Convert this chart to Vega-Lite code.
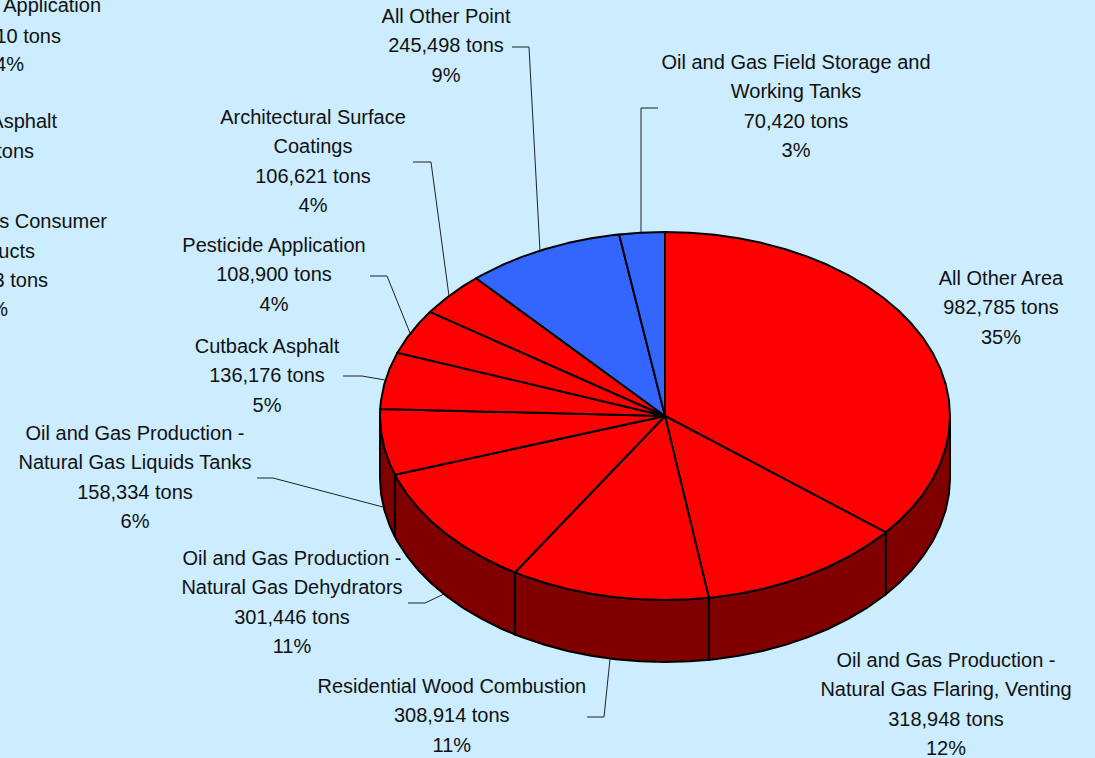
{
  "$schema": "https://vega.github.io/schema/vega-lite/v6.json",
  "width": 1095,
  "height": 758,
  "padding": 0,
  "autosize": {"type": "none"},
  "background": "#CCECFF",
  "config": {"view": {"stroke": null}},
  "datasets": {
    "rim": [
      {"slice":"All Other Area","source":"Area","v":0,"e":0,"n":0},
      {"slice":"All Other Area","source":"Area","v":1,"e":0,"n":1},
      {"slice":"All Other Area","source":"Area","v":2,"e":0.0872,"n":0.9962},
      {"slice":"All Other Area","source":"Area","v":3,"e":0.1736,"n":0.9848},
      {"slice":"All Other Area","source":"Area","v":4,"e":0.2588,"n":0.9659},
      {"slice":"All Other Area","source":"Area","v":5,"e":0.342,"n":0.9397},
      {"slice":"All Other Area","source":"Area","v":6,"e":0.4226,"n":0.9063},
      {"slice":"All Other Area","source":"Area","v":7,"e":0.5,"n":0.866},
      {"slice":"All Other Area","source":"Area","v":8,"e":0.5736,"n":0.8192},
      {"slice":"All Other Area","source":"Area","v":9,"e":0.6428,"n":0.766},
      {"slice":"All Other Area","source":"Area","v":10,"e":0.7071,"n":0.7071},
      {"slice":"All Other Area","source":"Area","v":11,"e":0.766,"n":0.6428},
      {"slice":"All Other Area","source":"Area","v":12,"e":0.8192,"n":0.5736},
      {"slice":"All Other Area","source":"Area","v":13,"e":0.866,"n":0.5},
      {"slice":"All Other Area","source":"Area","v":14,"e":0.9063,"n":0.4226},
      {"slice":"All Other Area","source":"Area","v":15,"e":0.9397,"n":0.342},
      {"slice":"All Other Area","source":"Area","v":16,"e":0.9659,"n":0.2588},
      {"slice":"All Other Area","source":"Area","v":17,"e":0.9848,"n":0.1736},
      {"slice":"All Other Area","source":"Area","v":18,"e":0.9962,"n":0.0872},
      {"slice":"All Other Area","source":"Area","v":19,"e":1,"n":0,"floor":-0.337},
      {"slice":"All Other Area","source":"Area","v":20,"e":0.9962,"n":-0.0872,"floor":-0.4242},
      {"slice":"All Other Area","source":"Area","v":21,"e":0.9848,"n":-0.1736,"floor":-0.5106},
      {"slice":"All Other Area","source":"Area","v":22,"e":0.9659,"n":-0.2588,"floor":-0.5958},
      {"slice":"All Other Area","source":"Area","v":23,"e":0.9397,"n":-0.342,"floor":-0.679},
      {"slice":"All Other Area","source":"Area","v":24,"e":0.9063,"n":-0.4226,"floor":-0.7596},
      {"slice":"All Other Area","source":"Area","v":25,"e":0.866,"n":-0.5,"floor":-0.837},
      {"slice":"All Other Area","source":"Area","v":26,"e":0.8192,"n":-0.5736,"floor":-0.9106},
      {"slice":"All Other Area","source":"Area","v":27,"e":0.7747,"n":-0.6324,"floor":-0.9694},
      {"slice":"All Other Area","source":"Area","v":28,"e":0,"n":0},

      {"slice":"Natural Gas Flaring, Venting","source":"Area","v":0,"e":0,"n":0},
      {"slice":"Natural Gas Flaring, Venting","source":"Area","v":1,"e":0.7747,"n":-0.6324,"floor":-0.9694},
      {"slice":"Natural Gas Flaring, Venting","source":"Area","v":2,"e":0.766,"n":-0.6428,"floor":-0.9798},
      {"slice":"Natural Gas Flaring, Venting","source":"Area","v":3,"e":0.7071,"n":-0.7071,"floor":-1.0441},
      {"slice":"Natural Gas Flaring, Venting","source":"Area","v":4,"e":0.6428,"n":-0.766,"floor":-1.103},
      {"slice":"Natural Gas Flaring, Venting","source":"Area","v":5,"e":0.5736,"n":-0.8192,"floor":-1.1562},
      {"slice":"Natural Gas Flaring, Venting","source":"Area","v":6,"e":0.5,"n":-0.866,"floor":-1.203},
      {"slice":"Natural Gas Flaring, Venting","source":"Area","v":7,"e":0.4226,"n":-0.9063,"floor":-1.2433},
      {"slice":"Natural Gas Flaring, Venting","source":"Area","v":8,"e":0.342,"n":-0.9397,"floor":-1.2767},
      {"slice":"Natural Gas Flaring, Venting","source":"Area","v":9,"e":0.2588,"n":-0.9659,"floor":-1.3029},
      {"slice":"Natural Gas Flaring, Venting","source":"Area","v":10,"e":0.1736,"n":-0.9848,"floor":-1.3218},
      {"slice":"Natural Gas Flaring, Venting","source":"Area","v":11,"e":0.1539,"n":-0.9881,"floor":-1.3251},
      {"slice":"Natural Gas Flaring, Venting","source":"Area","v":12,"e":0,"n":0},

      {"slice":"Residential Wood Combustion","source":"Area","v":0,"e":0,"n":0},
      {"slice":"Residential Wood Combustion","source":"Area","v":1,"e":0.1539,"n":-0.9881,"floor":-1.3251},
      {"slice":"Residential Wood Combustion","source":"Area","v":2,"e":0.0872,"n":-0.9962,"floor":-1.3332},
      {"slice":"Residential Wood Combustion","source":"Area","v":3,"e":0,"n":-1,"floor":-1.337},
      {"slice":"Residential Wood Combustion","source":"Area","v":4,"e":-0.0872,"n":-0.9962,"floor":-1.3332},
      {"slice":"Residential Wood Combustion","source":"Area","v":5,"e":-0.1736,"n":-0.9848,"floor":-1.3218},
      {"slice":"Residential Wood Combustion","source":"Area","v":6,"e":-0.2588,"n":-0.9659,"floor":-1.3029},
      {"slice":"Residential Wood Combustion","source":"Area","v":7,"e":-0.342,"n":-0.9397,"floor":-1.2767},
      {"slice":"Residential Wood Combustion","source":"Area","v":8,"e":-0.4226,"n":-0.9063,"floor":-1.2433},
      {"slice":"Residential Wood Combustion","source":"Area","v":9,"e":-0.5,"n":-0.866,"floor":-1.203},
      {"slice":"Residential Wood Combustion","source":"Area","v":10,"e":-0.5265,"n":-0.8502,"floor":-1.1872},
      {"slice":"Residential Wood Combustion","source":"Area","v":11,"e":0,"n":0},

      {"slice":"Natural Gas Dehydrators","source":"Area","v":0,"e":0,"n":0},
      {"slice":"Natural Gas Dehydrators","source":"Area","v":1,"e":-0.5265,"n":-0.8502,"floor":-1.1872},
      {"slice":"Natural Gas Dehydrators","source":"Area","v":2,"e":-0.5736,"n":-0.8192,"floor":-1.1562},
      {"slice":"Natural Gas Dehydrators","source":"Area","v":3,"e":-0.6428,"n":-0.766,"floor":-1.103},
      {"slice":"Natural Gas Dehydrators","source":"Area","v":4,"e":-0.7071,"n":-0.7071,"floor":-1.0441},
      {"slice":"Natural Gas Dehydrators","source":"Area","v":5,"e":-0.766,"n":-0.6428,"floor":-0.9798},
      {"slice":"Natural Gas Dehydrators","source":"Area","v":6,"e":-0.8192,"n":-0.5736,"floor":-0.9106},
      {"slice":"Natural Gas Dehydrators","source":"Area","v":7,"e":-0.866,"n":-0.5,"floor":-0.837},
      {"slice":"Natural Gas Dehydrators","source":"Area","v":8,"e":-0.9063,"n":-0.4226,"floor":-0.7596},
      {"slice":"Natural Gas Dehydrators","source":"Area","v":9,"e":-0.9397,"n":-0.342,"floor":-0.679},
      {"slice":"Natural Gas Dehydrators","source":"Area","v":10,"e":-0.9478,"n":-0.319,"floor":-0.656},
      {"slice":"Natural Gas Dehydrators","source":"Area","v":11,"e":0,"n":0},

      {"slice":"Natural Gas Liquids Tanks","source":"Area","v":0,"e":0,"n":0},
      {"slice":"Natural Gas Liquids Tanks","source":"Area","v":1,"e":-0.9478,"n":-0.319,"floor":-0.656},
      {"slice":"Natural Gas Liquids Tanks","source":"Area","v":2,"e":-0.9659,"n":-0.2588,"floor":-0.5958},
      {"slice":"Natural Gas Liquids Tanks","source":"Area","v":3,"e":-0.9848,"n":-0.1736,"floor":-0.5106},
      {"slice":"Natural Gas Liquids Tanks","source":"Area","v":4,"e":-0.9962,"n":-0.0872,"floor":-0.4242},
      {"slice":"Natural Gas Liquids Tanks","source":"Area","v":5,"e":-1,"n":0,"floor":-0.337},
      {"slice":"Natural Gas Liquids Tanks","source":"Area","v":6,"e":-0.9993,"n":0.0387},
      {"slice":"Natural Gas Liquids Tanks","source":"Area","v":7,"e":0,"n":0},

      {"slice":"Cutback Asphalt","source":"Area","v":0,"e":0,"n":0},
      {"slice":"Cutback Asphalt","source":"Area","v":1,"e":-0.9993,"n":0.0387},
      {"slice":"Cutback Asphalt","source":"Area","v":2,"e":-0.9962,"n":0.0872},
      {"slice":"Cutback Asphalt","source":"Area","v":3,"e":-0.9848,"n":0.1736},
      {"slice":"Cutback Asphalt","source":"Area","v":4,"e":-0.9659,"n":0.2588},
      {"slice":"Cutback Asphalt","source":"Area","v":5,"e":-0.9397,"n":0.342},
      {"slice":"Cutback Asphalt","source":"Area","v":6,"e":-0.9389,"n":0.3442},
      {"slice":"Cutback Asphalt","source":"Area","v":7,"e":0,"n":0},

      {"slice":"Pesticide Application","source":"Area","v":0,"e":0,"n":0},
      {"slice":"Pesticide Application","source":"Area","v":1,"e":-0.9389,"n":0.3442},
      {"slice":"Pesticide Application","source":"Area","v":2,"e":-0.9063,"n":0.4226},
      {"slice":"Pesticide Application","source":"Area","v":3,"e":-0.866,"n":0.5},
      {"slice":"Pesticide Application","source":"Area","v":4,"e":-0.8246,"n":0.5657},
      {"slice":"Pesticide Application","source":"Area","v":5,"e":0,"n":0},

      {"slice":"Architectural Surface Coatings","source":"Area","v":0,"e":0,"n":0},
      {"slice":"Architectural Surface Coatings","source":"Area","v":1,"e":-0.8246,"n":0.5657},
      {"slice":"Architectural Surface Coatings","source":"Area","v":2,"e":-0.8192,"n":0.5736},
      {"slice":"Architectural Surface Coatings","source":"Area","v":3,"e":-0.766,"n":0.6428},
      {"slice":"Architectural Surface Coatings","source":"Area","v":4,"e":-0.7071,"n":0.7071},
      {"slice":"Architectural Surface Coatings","source":"Area","v":5,"e":-0.663,"n":0.7486},
      {"slice":"Architectural Surface Coatings","source":"Area","v":6,"e":0,"n":0},

      {"slice":"All Other Point","source":"Point","v":0,"e":0,"n":0},
      {"slice":"All Other Point","source":"Point","v":1,"e":-0.663,"n":0.7486},
      {"slice":"All Other Point","source":"Point","v":2,"e":-0.6428,"n":0.766},
      {"slice":"All Other Point","source":"Point","v":3,"e":-0.5736,"n":0.8192},
      {"slice":"All Other Point","source":"Point","v":4,"e":-0.5,"n":0.866},
      {"slice":"All Other Point","source":"Point","v":5,"e":-0.4226,"n":0.9063},
      {"slice":"All Other Point","source":"Point","v":6,"e":-0.342,"n":0.9397},
      {"slice":"All Other Point","source":"Point","v":7,"e":-0.2588,"n":0.9659},
      {"slice":"All Other Point","source":"Point","v":8,"e":-0.1736,"n":0.9848},
      {"slice":"All Other Point","source":"Point","v":9,"e":-0.1609,"n":0.987},
      {"slice":"All Other Point","source":"Point","v":10,"e":0,"n":0},

      {"slice":"Oil and Gas Field Storage and Working Tanks","source":"Point","v":0,"e":0,"n":0},
      {"slice":"Oil and Gas Field Storage and Working Tanks","source":"Point","v":1,"e":-0.1609,"n":0.987},
      {"slice":"Oil and Gas Field Storage and Working Tanks","source":"Point","v":2,"e":-0.0872,"n":0.9962},
      {"slice":"Oil and Gas Field Storage and Working Tanks","source":"Point","v":3,"e":0,"n":1},
      {"slice":"Oil and Gas Field Storage and Working Tanks","source":"Point","v":4,"e":0,"n":0}
    ],
    "leaders": [
      {"to":"All Other Point","v":0,"e":-0.5368,"n":2.0054},
      {"to":"All Other Point","v":1,"e":-0.4772,"n":2.0054},
      {"to":"All Other Point","v":2,"e":-0.4386,"n":0.8967},
      {"to":"Field Storage","v":0,"e":-0.0246,"n":1.6739},
      {"to":"Field Storage","v":1,"e":-0.0842,"n":1.6739},
      {"to":"Field Storage","v":2,"e":-0.0842,"n":1},
      {"to":"Architectural","v":0,"e":-0.8842,"n":1.3804},
      {"to":"Architectural","v":1,"e":-0.8211,"n":1.3804},
      {"to":"Architectural","v":2,"e":-0.7579,"n":0.6522},
      {"to":"Pesticide","v":0,"e":-1.0351,"n":0.7609},
      {"to":"Pesticide","v":1,"e":-0.9754,"n":0.7609},
      {"to":"Pesticide","v":2,"e":-0.8947,"n":0.4511},
      {"to":"Cutback","v":0,"e":-1.1298,"n":0.2174},
      {"to":"Cutback","v":1,"e":-1.0632,"n":0.2174},
      {"to":"Cutback","v":2,"e":-0.9825,"n":0.1957},
      {"to":"Liquids Tanks","v":0,"e":-1.4316,"n":-0.337},
      {"to":"Liquids Tanks","v":1,"e":-1.3754,"n":-0.337},
      {"to":"Liquids Tanks","v":2,"e":-0.9895,"n":-0.4946},
      {"to":"Dehydrators","v":0,"e":-0.9018,"n":-1.0163},
      {"to":"Dehydrators","v":1,"e":-0.8421,"n":-1.0163},
      {"to":"Dehydrators","v":2,"e":-0.7754,"n":-0.9674},
      {"to":"Wood Combustion","v":0,"e":-0.2737,"n":-1.6359},
      {"to":"Wood Combustion","v":1,"e":-0.214,"n":-1.6359},
      {"to":"Wood Combustion","v":2,"e":-0.193,"n":-1.3207}
    ],
    "labels": [
      {"label":"All Other Area\n982,785 tons\n35%","tons":982785,"e":1.1789,"n":0.7446},
      {"label":"Oil and Gas Production -\nNatural Gas Flaring, Venting\n318,948 tons\n12%","tons":318948,"e":0.986,"n":-1.3315},
      {"label":"Residential Wood Combustion\n308,914 tons\n11%","tons":308914,"e":-0.7481,"n":-1.4728},
      {"label":"Oil and Gas Production -\nNatural Gas Dehydrators\n301,446 tons\n11%","tons":301446,"e":-1.3088,"n":-0.7772},
      {"label":"Oil and Gas Production -\nNatural Gas Liquids Tanks\n158,334 tons\n6%","tons":158334,"e":-1.8596,"n":-0.0978},
      {"label":"Cutback Asphalt\n136,176 tons\n5%","tons":136176,"e":-1.3965,"n":0.375},
      {"label":"Pesticide Application\n108,900 tons\n4%","tons":108900,"e":-1.3719,"n":0.9239},
      {"label":"Architectural Surface\nCoatings\n106,621 tons\n4%","tons":106621,"e":-1.2351,"n":1.6196},
      {"label":"All Other Point\n245,498 tons\n9%","tons":245498,"e":-0.7684,"n":2.1685},
      {"label":"Oil and Gas Field Storage and\nWorking Tanks\n70,420 tons\n3%","tons":70420,"e":0.4596,"n":1.9185}
    ],
    "cutoff": [
      {"text":"Application","e":-1.9789,"n":2.2283},
      {"text":"10 tons","e":-2.1193,"n":2.0598},
      {"text":"4%","e":-2.2491,"n":1.9076},
      {"text":"Asphalt","e":-2.1333,"n":1.5978},
      {"text":"tons","e":-2.214,"n":1.4348},
      {"text":"s Consumer","e":-1.9579,"n":1.0543},
      {"text":"Products","e":-2.2105,"n":0.8913},
      {"text":"3 tons","e":-2.1649,"n":0.7337},
      {"text":"%","e":-2.3053,"n":0.5761}
    ]
  },
  "encoding": {
    "x": {"field": "e", "type": "quantitative", "axis": null, "scale": {"domain": [-2.33333, 1.50877], "nice": false, "zero": false}},
    "y": {"field": "n", "type": "quantitative", "axis": null, "scale": {"domain": [-1.8587, 2.2609], "nice": false, "zero": false}}
  },
  "layer": [
    {
      "description": "Side wall of the tilted pie, one panel per front slice",
      "data": {"name": "rim"},
      "transform": [{"filter": "isValid(datum.floor)"}],
      "mark": {"type": "area", "color": "#800000", "stroke": "#000000", "strokeWidth": 2, "line": false},
      "encoding": {
        "y2": {"field": "floor"},
        "detail": {"field": "slice"}
      }
    },
    {
      "description": "Top face: each slice outline is filled, coloured by source class",
      "data": {"name": "rim"},
      "mark": {"type": "line", "filled": true, "stroke": "#000000", "strokeWidth": 2, "strokeJoin": "round"},
      "encoding": {
        "detail": {"field": "slice"},
        "order": {"field": "v"},
        "fill": {"field": "source", "type": "nominal", "legend": null, "scale": {"domain": ["Area", "Point"], "range": ["#FF0000", "#3366FF"]}}
      }
    },
    {
      "description": "Leader lines from labels to the pie",
      "data": {"name": "leaders"},
      "mark": {"type": "line", "color": "#222222", "strokeWidth": 1},
      "encoding": {
        "detail": {"field": "to"},
        "order": {"field": "v"}
      }
    },
    {
      "data": {"name": "labels"},
      "mark": {"type": "text", "font": "Liberation Sans", "fontSize": 20, "lineHeight": 29.3, "lineBreak": "\n", "align": "center", "baseline": "middle", "color": "#111111"},
      "encoding": {"text": {"field": "label"}}
    },
    {
      "description": "Labels running off the left edge",
      "data": {"name": "cutoff"},
      "mark": {"type": "text", "font": "Liberation Sans", "fontSize": 20, "align": "right", "baseline": "middle", "color": "#111111"},
      "encoding": {"text": {"field": "text"}}
    }
  ]
}
